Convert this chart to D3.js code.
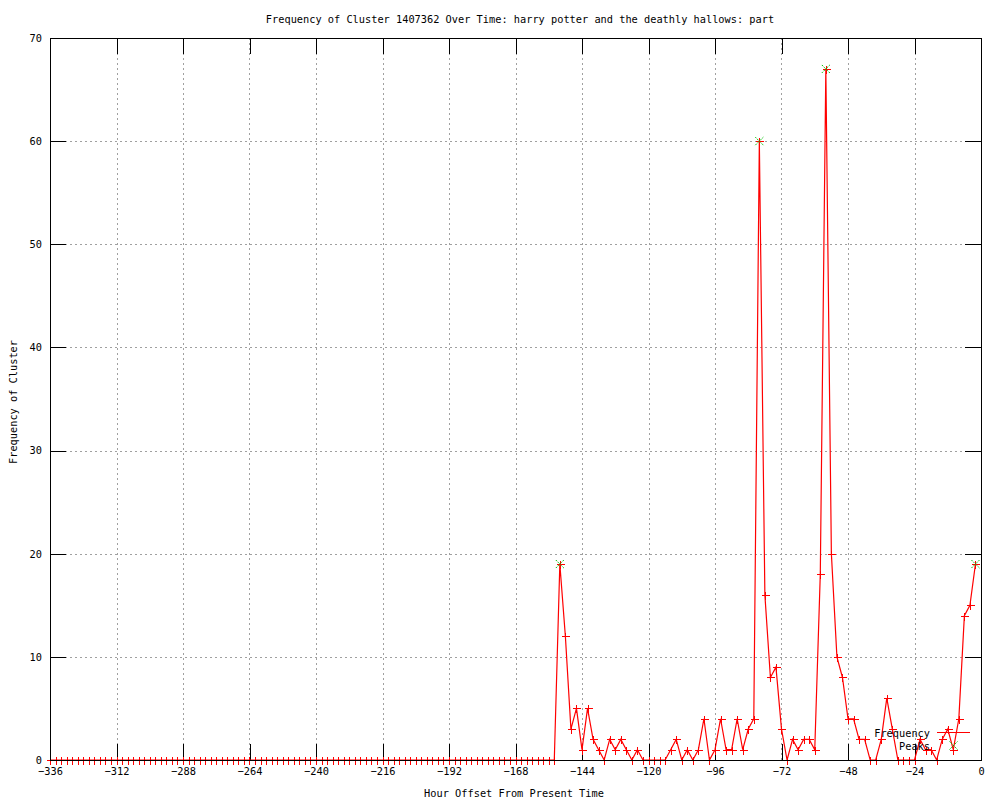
<!DOCTYPE html>
<html>
<head>
<meta charset="utf-8">
<script src="https://cdn.jsdelivr.net/npm/d3@7"></script>
<style>
  body { margin: 0; background: #fff; }
  text { font-family: "DejaVu Sans Mono", monospace; font-size: 10.3px; fill: #000; }
</style>
</head>
<body>
<div id="viz"></div>
<script>
// sampling grid, one point every 2 hours
const hours = d3.range(-336, 0, 2);

// frequency per 2-hour bin
const frequency = [
  0,0,0,0,0,0,0,0,0,0, 0,0,0,0,0,0,0,0,0,0,
  0,0,0,0,0,0,0,0,0,0, 0,0,0,0,0,0,0,0,0,0,
  0,0,0,0,0,0,0,0,0,0, 0,0,0,0,0,0,0,0,0,0,
  0,0,0,0,0,0,0,0,0,0, 0,0,0,0,0,0,0,0,0,0,
  0,0,0,0,0,0,0,0,0,0, 0,0,            // -336 .. -154
  19,12,3,5,1,5,2,1,0,2,                // -152 .. -134
  1,2,1,0,1,0,0,0,0,0,                  // -132 .. -114
  1,2,0,1,0,1,4,0,1,4,                  // -112 .. -94
  1,1,4,1,3,4,60,16,8,9,                // -92 .. -74
  3,0,2,1,2,2,1,18,67,20,               // -72 .. -54
  10,8,4,4,2,2,0,0,2,6,                 // -52 .. -34
  3,0,0,0,0,2,1,1,0,2,                  // -32 .. -14
  3,1,4,14,15,19                        // -12 .. -2
];

const peakHours = [-152, -80, -56, -2];
const peakValues = [19, 60, 67, 19];

const xTicks = d3.range(-336, 1, 24);
const yTicks = [0, 10, 20, 30, 40, 50, 60, 70];

const title = "Frequency of Cluster 1407362 Over Time: harry potter and the deathly hallows: part";

function renderChart() {
    const W = 1000, H = 800;
    const left = 50, right = 981, top = 38, bottom = 760;
    const RED = "#ff0000";
    const GREEN = "#00c000";

    const svg = d3.select("#viz").append("svg")
        .attr("width", W).attr("height", H);

    const x = d3.scaleLinear().domain([-336, 0]).range([left, right]);
    const y = d3.scaleLinear().domain([0, 70]).range([bottom, top]);

    // grid
    const grid = svg.append("g")
        .attr("stroke", "#a0a0a0")
        .attr("stroke-dasharray", "2,3")
        .attr("shape-rendering", "crispEdges");
    grid.selectAll(".gx").data(xTicks.slice(1, -1)).join("line")
        .attr("x1", d => Math.round(x(d)) + 0.5).attr("x2", d => Math.round(x(d)) + 0.5)
        .attr("y1", top).attr("y2", bottom);
    grid.selectAll(".gy").data(yTicks.slice(1, -1)).join("line")
        .attr("y1", d => Math.round(y(d)) + 0.5).attr("y2", d => Math.round(y(d)) + 0.5)
        .attr("x1", left).attr("x2", right);

    // axes with inward ticks on all four sides
    const tick = 16;
    const axX = svg.append("g").attr("transform", `translate(0,${bottom})`)
        .call(d3.axisBottom(x).tickValues(xTicks).tickSizeInner(-tick).tickSizeOuter(0).tickPadding(8)
            .tickFormat(d => d === 0 ? "0" : "\u2212" + Math.abs(d)));
    const axXt = svg.append("g").attr("transform", `translate(0,${top})`)
        .call(d3.axisTop(x).tickValues(xTicks).tickSizeInner(-tick).tickSizeOuter(0).tickFormat(""));
    const axY = svg.append("g").attr("transform", `translate(${left},0)`)
        .call(d3.axisLeft(y).tickValues(yTicks).tickSizeInner(-tick).tickSizeOuter(0).tickPadding(8));
    const axYr = svg.append("g").attr("transform", `translate(${right},0)`)
        .call(d3.axisRight(y).tickValues(yTicks).tickSizeInner(-tick).tickSizeOuter(0).tickFormat(""));
    [axX, axXt, axY, axYr].forEach(a => {
        a.select(".domain").remove();
        a.attr("shape-rendering", "crispEdges").attr("font-family", null).attr("font-size", null);
        a.selectAll(".tick line").attr("stroke", "#000");
    });

    // frequency line + markers
    const pts = hours.map((h, i) => [h, frequency[i]]);
    svg.append("path")
        .datum(pts)
        .attr("fill", "none")
        .attr("stroke", RED)
        .attr("stroke-width", 1.2)
        .attr("d", d3.line().x(d => x(d[0])).y(d => y(d[1])));

    const m = 4;
    svg.append("g").attr("stroke", RED).attr("shape-rendering", "crispEdges")
        .selectAll("path").data(pts).join("path")
        .attr("d", d => {
            const cx = Math.round(x(d[0])) + 0.5, cy = Math.round(y(d[1])) + 0.5;
            return `M${cx - m},${cy}H${cx + m}M${cx},${cy - m}V${cy + m}`;
        });

    // peaks markers
    const xPath = (cx, cy) => `M${cx - m},${cy - m}L${cx + m},${cy + m}M${cx - m},${cy + m}L${cx + m},${cy - m}`;
    svg.append("g").attr("stroke", GREEN).attr("stroke-dasharray", "1.5,1")
        .selectAll("path").data(peakHours).join("path")
        .attr("d", (d, i) => xPath(x(d), y(peakValues[i])));

    // border
    svg.append("rect")
        .attr("x", left + 0.5).attr("y", top + 0.5)
        .attr("width", right - left).attr("height", bottom - top)
        .attr("fill", "none").attr("stroke", "#000")
        .attr("shape-rendering", "crispEdges");

    // legend
    const key = svg.append("g");
    key.append("text").attr("x", 930).attr("y", 737).attr("text-anchor", "end").text("Frequency");
    key.append("line").attr("x1", 937).attr("x2", 970).attr("y1", 732.5).attr("y2", 732.5)
        .attr("stroke", RED).attr("stroke-width", 1.2);
    key.append("text").attr("x", 930).attr("y", 750).attr("text-anchor", "end").text("Peaks");
    key.append("path").attr("d", xPath(953.5, 745.5))
        .attr("stroke", GREEN).attr("stroke-dasharray", "1.5,1");

    // titles
    svg.append("text").attr("x", 520).attr("y", 23).attr("text-anchor", "middle").text(title);
    svg.append("text").attr("x", 514).attr("y", 797).attr("text-anchor", "middle").text("Hour Offset From Present Time");
    svg.append("text").attr("transform", "translate(17,402) rotate(-90)")
        .attr("text-anchor", "middle").text("Frequency of Cluster");
}

renderChart();
</script>
</body>
</html>
